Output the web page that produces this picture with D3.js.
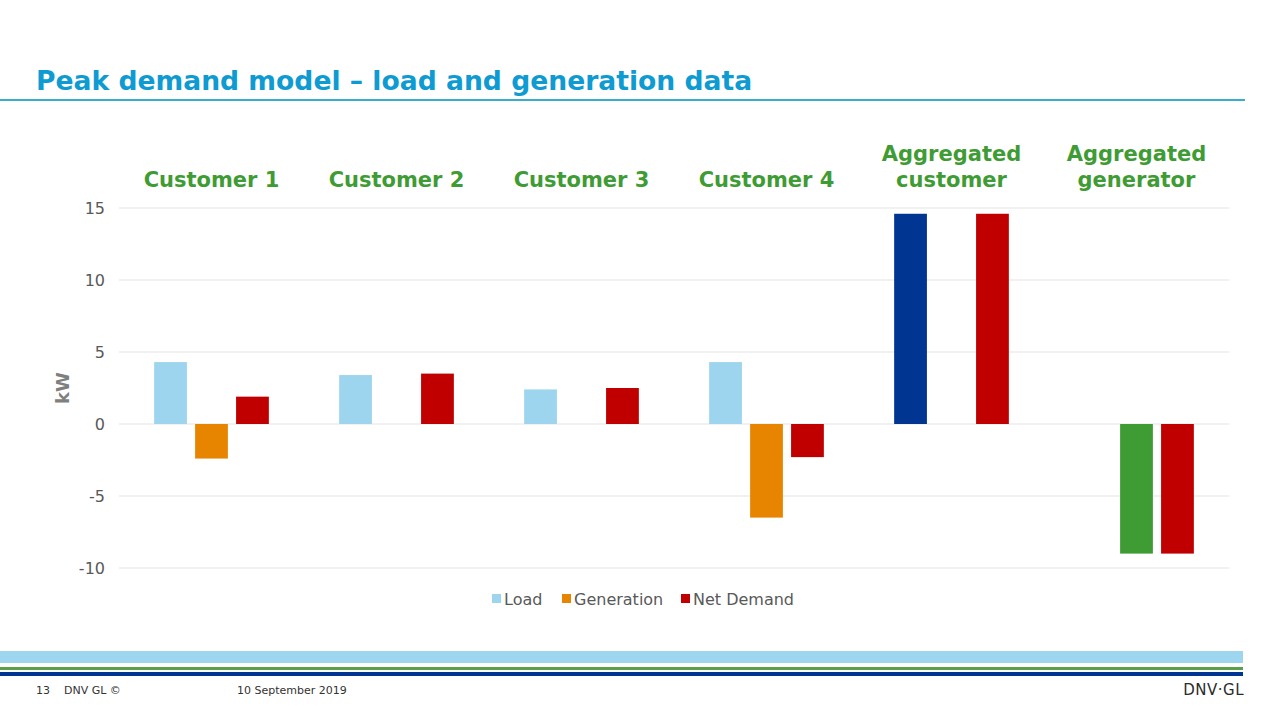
<!DOCTYPE html>
<html>
<head>
<meta charset="utf-8">
<script src="https://cdn.jsdelivr.net/npm/d3@7"></script>
<style>
  body { margin: 0; background: #fff; }
  svg { display: block; font-family: "DejaVu Sans", Verdana, sans-serif; }
</style>
</head>
<body>
<div id="chart"></div>
<script>
// categories and series
const categories = ["Customer 1", "Customer 2", "Customer 3", "Customer 4", "Aggregated customer", "Aggregated generator"];
const categoryLines = [["Customer 1"], ["Customer 2"], ["Customer 3"], ["Customer 4"], ["Aggregated", "customer"], ["Aggregated", "generator"]];
const series = ["Load", "Generation", "Net Demand"];
const loadValues = [4.3, 3.4, 2.4, 4.3, 14.6, 0];
const generationValues = [-2.4, 0, 0, -6.5, 0, -9.0];
const netDemandValues = [1.9, 3.5, 2.5, -2.3, 14.6, -9.0];
const yTicks = [-10, -5, 0, 5, 10, 15];

const seriesColors = { "Load": "#9dd5ee", "Generation": "#e88500", "Net Demand": "#c00000" };
// aggregated bars drawn in their own colours
const overrideColors = { "Aggregated customer|Load": "#003591", "Aggregated generator|Generation": "#3f9c35" };

const W = 1280, H = 720;
const svg = d3.select("#chart").append("svg").attr("width", W).attr("height", H);

// title
svg.append("text")
    .attr("x", 36).attr("y", 90)
    .style("font-size", "26.6px").style("font-weight", "bold")
    .style("fill", "#0e9bd2")
    .text("Peak demand model \u2013 load and generation data");
svg.append("rect").attr("x", 0).attr("y", 99).attr("width", 1245).attr("height", 2).attr("fill", "#3aaccc");

// chart scales
const plot = { left: 119, right: 1229, top: 208, bottom: 568 };
const x0 = d3.scaleBand().domain(categories).range([plot.left, plot.right]).paddingInner(0.38).paddingOuter(0.19);
const x1 = d3.scaleBand().domain(series).range([0, x0.bandwidth()]).paddingInner(0.2);
const y = d3.scaleLinear().domain([-10, 15]).range([plot.bottom, plot.top]);

// gridlines
svg.append("g")
    .selectAll("line")
    .data(yTicks)
    .enter()
    .append("line")
    .attr("x1", plot.left).attr("x2", plot.right)
    .attr("y1", d => y(d)).attr("y2", d => y(d))
    .attr("stroke", "#e3e3e3").attr("stroke-width", 1);

// y axis
const yAxis = svg.append("g")
    .attr("transform", `translate(${plot.left},0)`)
    .call(d3.axisLeft(y).tickValues(yTicks).tickFormat(d => String(d)).tickSize(0).tickPadding(14));
yAxis.select(".domain").remove();
yAxis.selectAll("text")
    .style("font-size", "16px")
    .style("font-family", "DejaVu Sans, Verdana, sans-serif")
    .style("fill", "#595959");

svg.append("text")
    .attr("text-anchor", "middle")
    .attr("transform", `translate(69, ${y(2.5)}) rotate(-90)`)
    .style("font-size", "18px").style("font-weight", "bold")
    .style("fill", "#7f7f7f")
    .text("kW");

// bars
const rows = [];
categories.forEach((c, i) => {
    rows.push({ cat: c, s: "Load", v: loadValues[i] });
    rows.push({ cat: c, s: "Generation", v: generationValues[i] });
    rows.push({ cat: c, s: "Net Demand", v: netDemandValues[i] });
});

svg.append("g")
    .selectAll("rect")
    .data(rows.filter(d => d.v !== 0))
    .enter()
    .append("rect")
    .attr("x", d => x0(d.cat) + x1(d.s))
    .attr("y", d => y(Math.max(0, d.v)))
    .attr("width", x1.bandwidth())
    .attr("height", d => Math.abs(y(d.v) - y(0)))
    .attr("fill", d => overrideColors[d.cat + "|" + d.s] || seriesColors[d.s]);

// category headers
const heads = svg.append("g")
    .selectAll("text")
    .data(categories)
    .enter()
    .append("text")
    .attr("text-anchor", "middle")
    .attr("x", d => x0(d) + x0.bandwidth() / 2)
    .attr("y", (d, i) => categoryLines[i].length > 1 ? 161 : 187)
    .style("font-size", "21px").style("font-weight", "bold")
    .style("fill", "#3f9c35");
heads.each(function (d, i) {
    const t = d3.select(this);
    categoryLines[i].forEach((line, j) => {
        t.append("tspan")
            .attr("x", x0(d) + x0.bandwidth() / 2)
            .attr("dy", j === 0 ? 0 : 26)
            .text(line);
    });
});

// legend
const legend = svg.append("g").attr("transform", "translate(492,599)");
const legendX = [0, 70, 189];
series.forEach((s, i) => {
    const g = legend.append("g").attr("transform", `translate(${legendX[i]},0)`);
    g.append("rect").attr("x", 0).attr("y", -5).attr("width", 9).attr("height", 9).attr("fill", seriesColors[s]);
    g.append("text").attr("x", 12).attr("y", 6)
        .style("font-size", "16px").style("fill", "#595959").text(s);
});

// footer stripes
svg.append("rect").attr("x", 0).attr("y", 651).attr("width", 1243).attr("height", 12).attr("fill", "#9dd6ee");
svg.append("rect").attr("x", 0).attr("y", 667).attr("width", 1243).attr("height", 3).attr("fill", "#5aa04a");
svg.append("rect").attr("x", 0).attr("y", 672).attr("width", 1243).attr("height", 4).attr("fill", "#003591");

svg.append("text").attr("x", 36).attr("y", 694)
    .style("font-size", "11px").style("fill", "#333").text("13");
svg.append("text").attr("x", 64).attr("y", 694)
    .style("font-size", "11px").style("fill", "#333").text("DNV GL \u00a9");
svg.append("text").attr("x", 237).attr("y", 694)
    .style("font-size", "11px").style("fill", "#333").text("10 September 2019");
svg.append("text").attr("x", 1244).attr("y", 695).attr("text-anchor", "end")
    .style("font-size", "15px").style("fill", "#2b2b2b").style("letter-spacing", "0.5px")
    .text("DNV\u00b7GL");
</script>
</body>
</html>
